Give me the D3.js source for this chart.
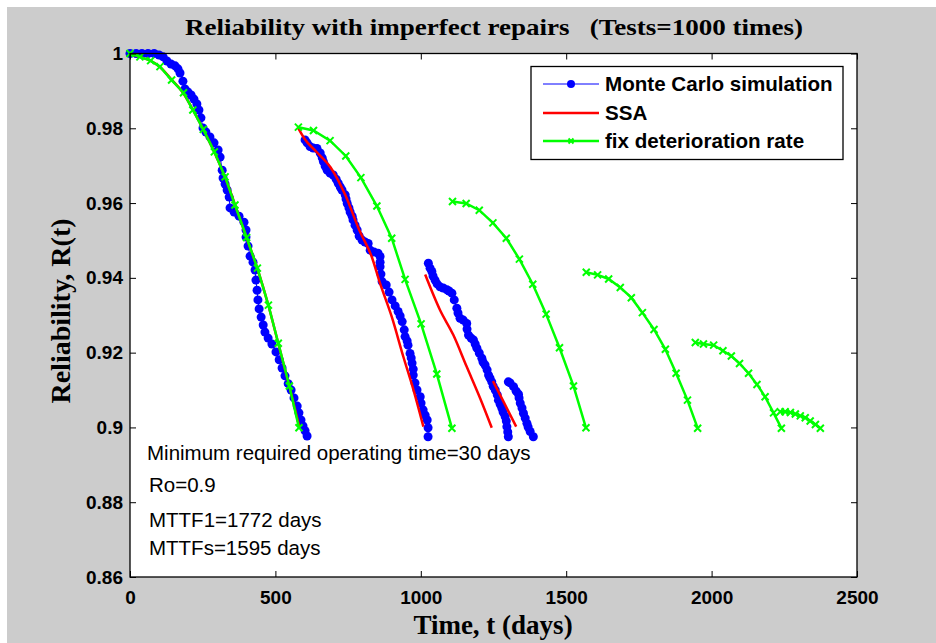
<!DOCTYPE html>
<html><head><meta charset="utf-8">
<script src="https://cdn.jsdelivr.net/npm/d3@7"></script>
<style>body{margin:0;background:#fff}</style>
</head><body><svg id="c" width="936" height="643"></svg>
<script>
// ---------- DATA ----------
const chartTitle = "Reliability with imperfect repairs   (Tests=1000 times)";
const xLabel = "Time, t (days)";
const yLabel = "Reliability, R(t)";
const xTicks = [0, 500, 1000, 1500, 2000, 2500];
const xTickLabels = ["0", "500", "1000", "1500", "2000", "2500"];
const yTicks = [0.86, 0.88, 0.90, 0.92, 0.94, 0.96, 0.98, 1.00];
const yTickLabels = ["0.86", "0.88", "0.9", "0.92", "0.94", "0.96", "0.98", "1"];
const seriesNames = ["Monte Carlo simulation", "SSA", "fix deterioration rate"];
const notes = ["Minimum required operating time=30 days", "Ro=0.9", "MTTF1=1772 days", "MTTFs=1595 days"];

// Monte Carlo simulation [t, R]
const mc1 = [[0,1.000],[21,1.000],[41,1.000],[62,1.000],[83,1.000],[100,0.9996],[114,0.9991],[127,0.998],[141,0.9972],[155,0.9967],[165,0.9959],[172,0.9948],[182,0.9926],[189,0.9905],[199,0.9897],[210,0.9889],[220,0.9878],[230,0.9865],[237,0.9849],[244,0.9828],[251,0.9801],[261,0.9790],[275,0.9777],[289,0.9761],[303,0.9742],[310,0.9723],[317,0.9688],[320,0.9667],[327,0.9651],[334,0.9635],[341,0.9616],[344,0.9587],[358,0.9576],[375,0.9565],[392,0.9549],[399,0.9528],[399,0.9509],[406,0.9485],[413,0.9458],[423,0.9442],[430,0.9421],[433,0.9394],[437,0.9367],[440,0.9341],[444,0.9317],[451,0.9295],[458,0.9274],[464,0.9255],[475,0.9239],[488,0.9223],[502,0.9202],[513,0.9181],[523,0.9159],[533,0.9138],[544,0.9117],[554,0.9100],[564,0.9079],[575,0.9057],[581,0.9039],[588,0.9020],[595,0.9004],[602,0.8991],[609,0.8977]];
const mc2 = [[602,0.9769],[609,0.9761],[619,0.9751],[630,0.9747],[643,0.9746],[654,0.9734],[661,0.9721],[665,0.9711],[671,0.9699],[678,0.9688],[688,0.9680],[699,0.9675],[709,0.9664],[716,0.9653],[723,0.9643],[729,0.9635],[740,0.9622],[743,0.9611],[747,0.9599],[753,0.9587],[757,0.9576],[764,0.9565],[767,0.9555],[774,0.9541],[781,0.9528],[788,0.9512],[798,0.9501],[808,0.9496],[819,0.9492],[826,0.9474],[839,0.9469],[853,0.9466],[860,0.9457],[860,0.9442],[860,0.9430],[863,0.9410],[867,0.9390],[881,0.9381],[891,0.9362],[901,0.9341],[912,0.9325],[922,0.9310],[929,0.9298],[936,0.9283],[943,0.9261],[946,0.9243],[953,0.9231],[956,0.9220],[963,0.9198],[967,0.9186],[970,0.9172],[974,0.9156],[974,0.9140],[980,0.9119],[987,0.9100],[998,0.9082],[1001,0.9065],[1008,0.9047],[1015,0.9033],[1022,0.9020],[1025,0.8999],[1025,0.8975]];
const mc3 = [[1026,0.9439],[1032,0.9426],[1038,0.9417],[1042,0.9405],[1049,0.9394],[1056,0.9384],[1066,0.9376],[1077,0.9373],[1090,0.9368],[1097,0.9365],[1107,0.9359],[1115,0.9341],[1124,0.9319],[1128,0.9306],[1135,0.9292],[1146,0.9287],[1158,0.9278],[1159,0.9263],[1164,0.9247],[1173,0.9239],[1181,0.9234],[1187,0.9223],[1193,0.9212],[1201,0.9199],[1210,0.9185],[1214,0.9175],[1221,0.9167],[1228,0.9154],[1233,0.9140],[1238,0.9132],[1244,0.9122],[1249,0.9110],[1256,0.9100],[1263,0.9087],[1267,0.9073],[1273,0.9062],[1279,0.9051],[1283,0.9041],[1290,0.9029],[1294,0.9017],[1296,0.9002],[1299,0.8988],[1301,0.8975]];
const mc4 = [[1301,0.9122],[1307,0.9119],[1319,0.9109],[1328,0.9097],[1336,0.9089],[1338,0.9079],[1342,0.9065],[1348,0.9052],[1353,0.9038],[1359,0.9025],[1365,0.9011],[1369,0.9001],[1376,0.8989],[1387,0.8975]];

// SSA [t, R]
const ssa1 = [[0,1.000],[34,0.9991],[71,0.9980],[103,0.9964],[143,0.9930],[184,0.9893],[216,0.9850],[252,0.9797],[290,0.9736],[327,0.9669],[361,0.9596],[401,0.9507],[438,0.9425],[476,0.9326],[510,0.9224],[548,0.9110],[583,0.9000]];
const ssa2 = [[578,0.9801],[600,0.9772],[640,0.9738],[690,0.9695],[740,0.9622],[790,0.9525],[831,0.9457],[860,0.9385],[900,0.9296],[940,0.9189],[975,0.9100],[1009,0.9002]];
const ssa3 = [[1015,0.9409],[1066,0.9314],[1112,0.9247],[1158,0.9162],[1204,0.9078],[1244,0.8999]];
const ssa4 = [[1248,0.9124],[1287,0.9065],[1328,0.9002]];

// fix deterioration rate [t, R]
const fix1 = [[0,1.000],[34,0.9991],[71,0.9981],[103,0.9965],[143,0.9929],[184,0.9895],[216,0.9849],[252,0.9797],[290,0.9737],[327,0.9670],[361,0.9595],[401,0.9508],[438,0.9426],[476,0.9327],[510,0.9225],[548,0.9111],[581,0.8999]];
const fix2 = [[579,0.9803],[631,0.9794],[688,0.9767],[742,0.9726],[794,0.9668],[849,0.9592],[900,0.9506],[946,0.9396],[1001,0.9277],[1055,0.9143],[1107,0.8998]];
const fix3 = [[1109,0.9604],[1156,0.9599],[1201,0.9581],[1248,0.9547],[1294,0.9506],[1339,0.9450],[1385,0.9383],[1431,0.9303],[1477,0.9213],[1525,0.9111],[1568,0.8999]];
const fix4 = [[1569,0.9415],[1608,0.9408],[1646,0.9397],[1686,0.9374],[1724,0.9347],[1762,0.9307],[1802,0.9262],[1841,0.9209],[1878,0.9145],[1917,0.9073],[1952,0.8998]];
const fix5 = [[1944,0.9227],[1972,0.9223],[2007,0.9220],[2039,0.9205],[2068,0.9191],[2096,0.9171],[2127,0.9145],[2156,0.9115],[2184,0.9082],[2213,0.9039],[2240,0.8998]];
const fix6 = [[2236,0.9042],[2253,0.9042],[2271,0.9040],[2288,0.9036],[2305,0.9031],[2322,0.9026],[2339,0.9017],[2357,0.9008],[2374,0.8998]];

const mcSegments = [mc1, mc2, mc3, mc4];
const ssaSegments = [ssa1, ssa2, ssa3, ssa4];
const fixSegments = [fix1, fix2, fix3, fix4, fix5, fix6];

// ---------- DRAW ----------
const W = 936, H = 643;
const m = {left: 130, right: 857, top: 53.5, bottom: 577};
const svg = d3.select("#c");
svg.append("rect").attr("x", 7).attr("y", 7).attr("width", W - 7).attr("height", H - 7).attr("fill", "#cccccc");

const x = d3.scaleLinear().domain([0, 2500]).range([m.left, m.right]);
const y = d3.scaleLinear().domain([0.86, 1]).range([m.bottom, m.top]);

svg.append("rect").attr("x", m.left).attr("y", m.top)
  .attr("width", m.right - m.left).attr("height", m.bottom - m.top).attr("fill", "#fff");

const plot = svg.append("g");
plot.append("clipPath").attr("id", "clip").append("rect")
  .attr("x", m.left - 6).attr("y", m.top - 6).attr("width", m.right - m.left + 12).attr("height", m.bottom - m.top + 12);
const pg = plot.append("g").attr("clip-path", "url(#clip)");

const line = d3.line().x(d => x(d[0])).y(d => y(d[1]));
const smooth = d3.line().x(d => x(d[0])).y(d => y(d[1])).curve(d3.curveMonotoneX);

// Monte Carlo
mcSegments.forEach(seg => {
  pg.append("path").attr("d", line(seg)).attr("fill", "none").attr("stroke", "#0000ff").attr("stroke-width", 1);
});
mcSegments.forEach(seg => {
  pg.selectAll(null).data(seg).enter().append("circle")
    .attr("cx", d => x(d[0])).attr("cy", d => y(d[1])).attr("r", 4.5).attr("fill", "#0000ff");
});
// SSA
ssaSegments.forEach(seg => {
  pg.append("path").attr("d", smooth(seg)).attr("fill", "none").attr("stroke", "#ff0000").attr("stroke-width", 2.5);
});
// fix deterioration
function xMark(g, cx, cy, s) {
  g.append("path").attr("d", `M${cx - s},${cy - s}L${cx + s},${cy + s}M${cx - s},${cy + s}L${cx + s},${cy - s}`)
    .attr("stroke", "#00ff00").attr("stroke-width", 2).attr("fill", "none");
}
fixSegments.forEach(seg => {
  pg.append("path").attr("d", line(seg)).attr("fill", "none").attr("stroke", "#00ff00").attr("stroke-width", 2.5);
  seg.forEach(d => xMark(pg, x(d[0]), y(d[1]), 3.5));
});

// axes box
svg.append("rect").attr("x", m.left).attr("y", m.top)
  .attr("width", m.right - m.left).attr("height", m.bottom - m.top)
  .attr("fill", "none").attr("stroke", "#000").attr("stroke-width", 1.3);

const tl = 6;
const axB = svg.append("g").attr("transform", `translate(0,${m.bottom})`)
  .call(d3.axisBottom(x).tickValues(xTicks).tickFormat((d, i) => xTickLabels[i]).tickSize(-tl).tickPadding(14));
const axT = svg.append("g").attr("transform", `translate(0,${m.top})`)
  .call(d3.axisTop(x).tickValues(xTicks).tickFormat("").tickSize(-tl));
const axL = svg.append("g").attr("transform", `translate(${m.left},0)`)
  .call(d3.axisLeft(y).tickValues(yTicks).tickFormat((d, i) => yTickLabels[i]).tickSize(-tl).tickPadding(7));
const axR = svg.append("g").attr("transform", `translate(${m.right},0)`)
  .call(d3.axisRight(y).tickValues(yTicks).tickFormat("").tickSize(-tl));
[axB, axT, axL, axR].forEach(a => {
  a.select(".domain").remove();
  a.selectAll(".tick line").attr("stroke", "#000").attr("stroke-width", 1);
  a.selectAll("text").attr("fill", "#000").attr("font-family", "Liberation Sans, Arial, sans-serif")
    .attr("font-weight", "bold").attr("font-size", 19);
});

// title & labels
svg.append("text").attr("x", 494).attr("y", 35).attr("text-anchor", "middle")
  .style("white-space", "pre")
  .attr("font-family", "Liberation Serif, Times New Roman, serif").attr("font-weight", "bold").attr("font-size", 24)
  .attr("textLength", 618).attr("lengthAdjust", "spacingAndGlyphs")
  .text(chartTitle);
svg.append("text").attr("x", 493).attr("y", 634).attr("text-anchor", "middle")
  .attr("font-family", "Liberation Serif, Times New Roman, serif").attr("font-weight", "bold").attr("font-size", 27)
  .text(xLabel);
svg.append("text").attr("transform", "translate(70,311) rotate(-90)").attr("text-anchor", "middle")
  .attr("font-family", "Liberation Serif, Times New Roman, serif").attr("font-weight", "bold").attr("font-size", 28)
  .text(yLabel);

// annotations
const noteX = [147, 149, 149, 149];
const noteY = [460, 492, 527, 555];
notes.forEach((t, i) => {
  svg.append("text").attr("x", noteX[i]).attr("y", noteY[i])
    .attr("font-family", "Liberation Sans, Arial, sans-serif").attr("font-size", 20.5).attr("fill", "#000").text(t);
});

// legend
const lg = svg.append("g");
lg.append("rect").attr("x", 531).attr("y", 66.5).attr("width", 312).attr("height", 93)
  .attr("fill", "#fff").attr("stroke", "#000").attr("stroke-width", 1.3);
const rowY = [84, 113, 141];
const colors = ["#0000ff", "#ff0000", "#00ff00"];
const widths = [1, 2.5, 2.5];
seriesNames.forEach((n, i) => {
  lg.append("line").attr("x1", 543).attr("x2", 599).attr("y1", rowY[i]).attr("y2", rowY[i])
    .attr("stroke", colors[i]).attr("stroke-width", widths[i]);
  lg.append("text").attr("x", 605).attr("y", rowY[i]).attr("dy", "0.35em")
    .attr("font-family", "Liberation Sans, Arial, sans-serif").attr("font-weight", "bold").attr("font-size", 20.6)
    .attr("fill", "#000").text(n);
});
lg.append("circle").attr("cx", 571).attr("cy", rowY[0]).attr("r", 4).attr("fill", "#0000ff");
xMark(lg, 571, rowY[2], 2.5);
</script></body></html>
